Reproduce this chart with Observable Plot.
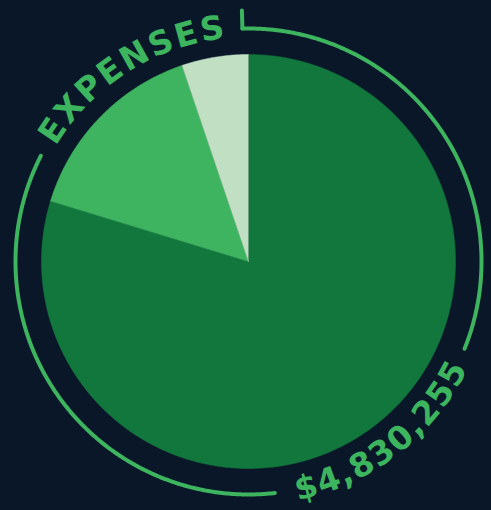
<!DOCTYPE html>
<html>
<head>
<meta charset="utf-8">
<script src="https://cdn.jsdelivr.net/npm/d3@7"></script>
<script src="https://cdn.jsdelivr.net/npm/@observablehq/plot@0.6"></script>
<style>
  html, body { margin: 0; padding: 0; background: #0a1729; overflow: hidden; }
</style>
</head>
<body>
<div id="chart"></div>
<script>
// ---- data ----
const categories = ["Largest", "Middle", "Smallest"];
const values = [3850255, 729000, 251000];
const sliceColors = ["#12773d", "#3fb460", "#c0dfc3"];
const titleText = "EXPENSES";
const totalText = "$" + d3.format(",")(d3.sum(values));

// ---- layout ----
const W = 491, H = 510;
const cx = 248, cy = 261, Rpx = 207;       // pie centre & radius in px
const ringPx = 233;
const green = "#3db45e";
const bg = "#0a1729";
const rad = Math.PI / 180;
const FONT = "DejaVu Sans";
const FS = 33;

// pie slices as polygons (data units: pie radius = 1)
const pie = d3.pie().sort(null).value(d => d.value)(categories.map((c, i) => ({name: c, value: values[i]})));
const slicePts = [];
for (const a of pie) {
  const n = Math.max(2, Math.ceil((a.endAngle - a.startAngle) / (0.5 * rad)));
  slicePts.push({name: a.data.name, x: 0, y: 0});
  for (let k = 0; k <= n; k++) {
    const t = a.startAngle + (a.endAngle - a.startAngle) * k / n;
    slicePts.push({name: a.data.name, x: Math.sin(t), y: Math.cos(t)});
  }
}

// ring arcs (clockwise degrees from 12 o'clock)
const ringR = ringPx / Rpx;
const arcSegments = [[-1.5, 112], [173.5, 297]];
const ringPts = [];
arcSegments.forEach(([a0, a1], i) => {
  for (let d = a0; d <= a1 + 1e-9; d += 0.5) ringPts.push({seg: i, x: ringR * Math.sin(d * rad), y: ringR * Math.cos(d * rad)});
});
const tickPts = [
  {x: ringR * Math.sin(-1.5 * rad), y: ringR * Math.cos(-1.5 * rad)},
  {x: (251 / Rpx) * Math.sin(-1.5 * rad), y: (251 / Rpx) * Math.cos(-1.5 * rad)}
];

// curved text, one glyph per point
const ctx = document.createElement("canvas").getContext("2d");
ctx.font = `bold ${FS}px '${FONT}'`;
function arcText(str, startDeg, endDeg, rPx, dir) {
  const ws = [...str].map(ch => ctx.measureText(ch).width);
  const span = Math.abs(endDeg - startDeg) * rad * rPx;
  const gap = (span - d3.sum(ws)) / (ws.length - 1);
  const out = [];
  let s = 0;
  [...str].forEach((ch, i) => {
    const c = s + ws[i] / 2;
    const th = startDeg + dir * (c / rPx) / rad;
    out.push({ch, x: (rPx / Rpx) * Math.sin(th * rad), y: (rPx / Rpx) * Math.cos(th * rad), rot: dir > 0 ? th : th - 180});
    s += ws[i] + gap;
  });
  return out;
}
const topGlyphs = arcText(titleText, -59, -6, 235, 1);
const botGlyphs = arcText(totalText, 168.5, 116, 233.5, -1);

const textOpts = {x: "x", y: "y", text: "ch", rotate: "rot", fill: green, fontSize: FS, fontWeight: "bold", fontFamily: FONT, lineAnchor: "middle", textAnchor: "middle"};

const chart = Plot.plot({
  width: W, height: H,
  margin: 0,
  style: {background: bg},
  x: {domain: [-cx / Rpx, (W - cx) / Rpx], axis: null},
  y: {domain: [-(H - cy) / Rpx, cy / Rpx], axis: null},
  color: {domain: categories, range: sliceColors},
  marks: [
    Plot.line(slicePts, {x: "x", y: "y", z: "name", fill: "name", stroke: "name", strokeWidth: 0.5}),
    Plot.line(ringPts, {x: "x", y: "y", z: "seg", stroke: green, strokeWidth: 4, strokeLinecap: "round"}),
    Plot.line(tickPts, {x: "x", y: "y", stroke: green, strokeWidth: 4, strokeLinecap: "round"}),
    Plot.text(topGlyphs, textOpts),
    Plot.text(botGlyphs, textOpts)
  ]
});
document.getElementById("chart").append(chart);
</script>
</body>
</html>
